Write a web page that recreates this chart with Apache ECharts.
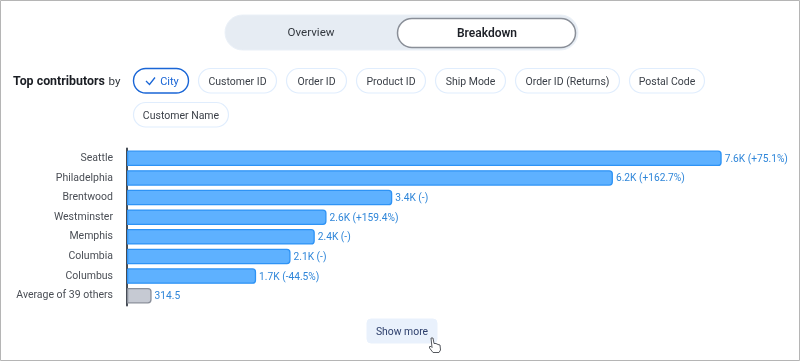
<!DOCTYPE html>
<html>
<head>
<meta charset="utf-8">
<style>html,body{margin:0;padding:0;background:#fff}#c{width:800px;height:361px}</style>
<script src="https://cdn.jsdelivr.net/npm/echarts@6/dist/echarts.min.js"></script>
</head>
<body>
<div id="c"></div>
<script>
const categories = ['Seattle','Philadelphia','Brentwood','Westminster','Memphis','Columbia','Columbus','Average of 39 others'];
const values = [7600,6210,3390,2550,2400,2090,1650,314.5];
const valueLabels = ['7.6K (+75.1%)','6.2K (+162.7%)','3.4K (-)','2.6K (+159.4%)','2.4K (-)','2.1K (-)','1.7K (-44.5%)','314.5'];
const toggles = ['Overview','Breakdown'];
const chips = ['City','Customer ID','Order ID','Product ID','Ship Mode','Order ID (Returns)','Postal Code','Customer Name'];
const chipBoxes = [[133,56],[198,79],[286,61],[356,70],[435,71],[515,105],[629,76],[133,96]];

const FONT = 'Roboto, sans-serif';
const chart = echarts.init(document.getElementById('c'), null, {renderer:'canvas'});
const gfx = [];
function text(x,y,t,o){gfx.push({type:'text',x,y,silent:true,z:10,style:Object.assign({text:t,font:'10.5px '+FONT,fill:'#3a3f47',textAlign:'center',textVerticalAlign:'middle'},o||{})});}
function rr(x,y,w,h,r,fill,stroke,lw){gfx.push({type:'rect',silent:true,z:5,shape:{x,y,width:w,height:h,r},style:{fill,stroke,lineWidth:lw||1}});}
// frame
rr(0.5,0.5,799,360,0,'transparent','#b5b5b5',1);
// toggle
rr(225,15,353,35,17.5,'#e6ecf3','#eaf0f7',1);
rr(397.5,18.5,178,29,14.5,'#ffffff','#8a8f98',1.5);
text(311,33.5,toggles[0],{font:'11.6px '+FONT,fill:'#33383f'});
text(487,34,toggles[1],{font:'600 12px '+FONT,fill:'#1d2027'});
// heading
text(13,82,'Top contributors',{font:'700 12.4px '+FONT,fill:'#1a1d23',textAlign:'left'});
text(108.5,82,'by',{font:'11.6px '+FONT,fill:'#33383f',textAlign:'left'});
// chips
chips.forEach((c,i)=>{
  const [x,w]=chipBoxes[i];
  const y=i===7?102.5:68.5;
  if(i===0){
    rr(x+.5,y,w-1,24.5,12.25,'#fff','#1a66d6',1.4);
    gfx.push({type:'polyline',silent:true,z:10,shape:{points:[[146,81],[149.5,84.5],[155,77.5]]},style:{stroke:'#1a66d6',lineWidth:1.3,fill:'none'}});
    text(169.5,82,c,{font:'11px '+FONT,fill:'#1a66d6'});
  } else {
    rr(x+.5,y,w-1,24.5,12.25,'#fff','#e0edfd',1.2);
    text(x+w/2,y+13.5,c,{fill:'#3a3f47'});
  }
});
// show more
rr(367,319,70,24,4,'#e9f1fc','#e9f1fc',0);
text(402,332.5,'Show more',{font:'10.4px '+FONT,fill:'#2c3e6b'});
// cursor
gfx.push({type:'polygon',silent:true,z:12,shape:{points:[[431,338],[433,338],[434,343.5],[436,343.5],[438,344.5],[440,345],[440.5,350],[439,352.5],[433,352.5],[429.5,348],[429.5,346.5],[431,346.5],[432,347.5]]},style:{fill:'#fff',stroke:'#55585e',lineWidth:1}});

chart.setOption({
  animation:false,
  textStyle:{fontFamily:FONT},
  grid:{left:127,top:148.5,width:626,height:157,containLabel:false},
  xAxis:{type:'value',min:0,max:8000,show:false},
  yAxis:{type:'category',inverse:true,data:categories,offset:0.5,
    axisLine:{show:true,onZero:false,lineStyle:{color:'#333a44',width:1.8}},
    axisTick:{show:false},
    axisLabel:{color:'#4a4e55',fontSize:10.5,margin:13.5,fontFamily:FONT,padding:[2,0,0,0]}},
  series:[{type:'bar',barWidth:15.5,
    data:values.map((v,i)=>({value:v,
      itemStyle:i===values.length-1?{color:'#c6cad3',borderColor:'#8a8f9a'}:{color:'#5eb1ff',borderColor:'#2e93f5'}})),
    itemStyle:{borderWidth:1.3,borderRadius:[0,3,3,0]},
    label:{show:true,position:'right',distance:3,offset:[0,1],color:'#2f86d9',fontSize:10.2,fontFamily:FONT,
      formatter:p=>valueLabels[p.dataIndex]}}],
  graphic:gfx
});
</script>
</body>
</html>
